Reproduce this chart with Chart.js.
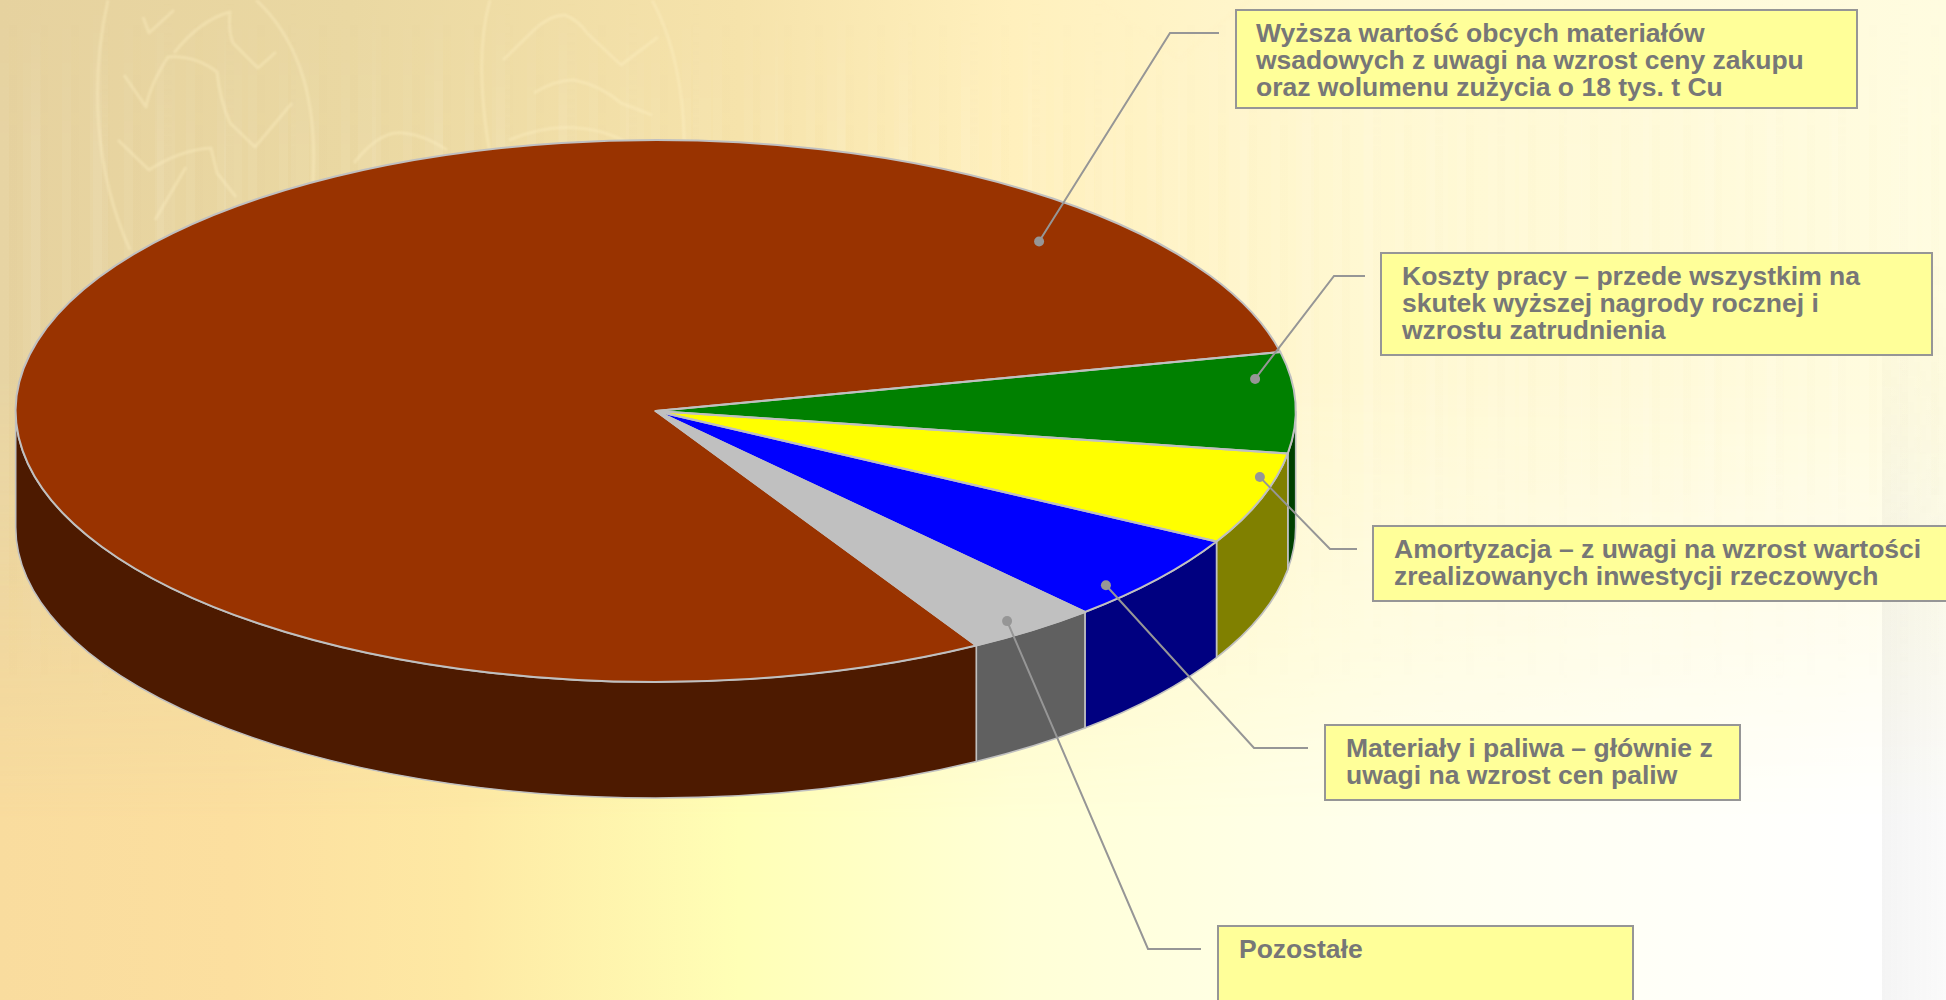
<!DOCTYPE html>
<html lang="pl">
<head>
<meta charset="utf-8">
<title>Koszty</title>
<script src="https://cdn.jsdelivr.net/npm/chart.js@4"></script>
<style>
  html, body { margin: 0; padding: 0; width: 1946px; height: 1000px; overflow: hidden; }
  #stage { position: relative; width: 1946px; height: 1000px; overflow: hidden;
    background: linear-gradient(90deg, #f9dc9e 0, #fcdf9f 12%, #fee9a4 24%, #ffffb6 38%, #ffffd6 52%, #fffff0 74%, #ffffff 96%); }
  .layer { position: absolute; inset: 0; }
  #bgTop {
    background: linear-gradient(90deg, #e6d29f 0, #ead8a2 18%, #f6e3ab 38%, #fff0bd 52%, #fff8d2 70%, #fffce0 100%);
    -webkit-mask-image: linear-gradient(180deg, #000 0, #000 38%, transparent 82%);
    mask-image: linear-gradient(180deg, #000 0, #000 38%, transparent 82%);
  }
  #bgStripes {
    background:
      repeating-linear-gradient(90deg, rgba(255,255,255,.05) 0 9px, rgba(190,160,90,.012) 9px 17px, transparent 17px 31px),
      repeating-linear-gradient(90deg, transparent 0 23px, rgba(255,255,255,.05) 23px 41px, transparent 41px 67px);
    -webkit-mask-image: linear-gradient(180deg, transparent 0, #000 15%, #000 45%, transparent 72%);
    mask-image: linear-gradient(180deg, transparent 0, #000 15%, #000 45%, transparent 72%);
  }
  #bgEdge { left: 1882px; background: linear-gradient(90deg, rgba(120,120,120,.08), rgba(120,120,120,.035));
    -webkit-mask-image: linear-gradient(180deg, transparent 25%, #000 60%);
    mask-image: linear-gradient(180deg, transparent 25%, #000 60%); }
  #bgLeaves { filter: blur(.8px); }
  canvas { position: absolute; left: 0; top: 0; }
  .callout { position: absolute; box-sizing: border-box; background: #ffff99; border: 2px solid #969696;
    font: bold 26.5px/27.2px "Liberation Sans", Arial, sans-serif; color: #777777; white-space: nowrap; }
</style>
</head>
<body>
<div id="stage">
  <div class="layer" id="bgTop"></div>
  <div class="layer" id="bgStripes"></div>
  <div class="layer" id="bgEdge"></div>
  <svg class="layer" id="bgLeaves" width="1946" height="1000" fill="none" stroke="#fff3c4" stroke-opacity=".38" stroke-width="3" stroke-linejoin="round">
    <path d="M108 0C90 80 94 170 130 250M256 0C310 50 325 130 306 240"/>
    <path d="M143 17L149 33L174 10M174 53Q200 20 230 12Q228 30 233 43L258 68L276 52"/>
    <path d="M124 75L146 107Q150 85 168 57Q195 55 217 72Q220 100 230 123L255 147L292 103"/>
    <path d="M118 140L149 170Q180 150 211 148L217 173L236 197M155 220L186 167"/>
    <path d="M490 0C470 70 490 170 510 240M652 0C690 70 690 170 675 250"/>
    <path d="M503 60L534 30Q550 15 565 15Q578 20 587 33L621 65L658 37"/>
    <path d="M534 93Q555 80 574 80Q600 85 621 103L652 115M509 140Q545 125 577 128Q610 130 640 150"/>
    <path d="M354 163Q380 130 403 133Q425 135 447 150"/>
    <path d="M1095 0Q1140 30 1180 60Q1210 30 1250 0" stroke-opacity=".3"/>
  </svg>
  <canvas id="costChart" width="1946" height="1000"></canvas>
  <div id="callouts"></div>
</div>

<script>
const sliceLabels = [
  "Koszty pracy",
  "Amortyzacja",
  "Materiały i paliwa",
  "Pozostałe",
  "Obce materiały wsadowe"
];

// udział w przyroście kosztów, %
const sliceValues = [6.0, 5.5, 5.3, 3.35, 79.85];

const topColors = ["#008000", "#ffff00", "#0000ff", "#c0c0c0", "#993300"];
const wallColors = ["#004000", "#808000", "#000080", "#606060", "#4d1a00"];

const calloutLines = [
  ["Koszty pracy – przede wszystkim na", "skutek wyższej nagrody rocznej i", "wzrostu zatrudnienia"],
  ["Amortyzacja – z uwagi na wzrost wartości", "zrealizowanych inwestycji rzeczowych"],
  ["Materiały i paliwa – głównie z", "uwagi na wzrost cen paliw"],
  ["Pozostałe"],
  ["Wyższa wartość obcych materiałów", "wsadowych z uwagi na wzrost ceny zakupu", "oraz wolumenu zużycia o 18 tys. t Cu"]
];

// left, top, width, height, padding-left of each callout box
const calloutBoxes = [
  [1380, 252, 553, 104, 20],
  [1372, 525, 590, 77, 20],
  [1324, 724, 417, 77, 20],
  [1217, 925, 417, 90, 20],
  [1235, 9, 623, 100, 19]
];

// where a leader lands inside its slice: share of the sweep, share of the radius
const leaderSweep = [0.25, 0.277, 0.714, 0.565, 0.883];
const leaderRadius = [0.944, 0.975, 0.953, 0.95, 0.866];

// horizontal part of each leader: box end x, elbow x, y
const leaderElbows = [
  [1365, 1334, 276],
  [1357, 1330, 549],
  [1308, 1254, 748],
  [1201, 1148, 949],
  [1219, 1170, 33]
];

const PIE_X = 655.7;
const PIE_Y = 411;
const PIE_RX = 640;
const PIE_SQUASH = 271 / 640;
const PIE_DEPTH = 116;
const EDGE_COLOR = "#c0c0c0";
const LEADER_COLOR = "#969696";

function renderCallouts() {
  const holder = document.querySelector("#callouts");

  calloutLines.forEach((lines, i) => {
    const [left, top, width, height, pad] = calloutBoxes[i];
    const box = document.createElement("div");
    box.className = "callout";
    box.style.cssText = `left:${left}px;top:${top}px;width:${width}px;height:${height}px;padding:9px 0 0 ${pad}px`;
    box.innerHTML = lines.join("<br>");
    holder.appendChild(box);
  });
}

function squash(ctx) {
  ctx.translate(PIE_X, PIE_Y);
  ctx.scale(1, PIE_SQUASH);
  ctx.translate(-PIE_X, -PIE_Y);
}

// the parts of a slice's rim that face the viewer
function frontRim(arc) {
  const turn = Math.PI * 2;
  let start = arc.startAngle % turn;
  if (start < 0) start += turn;
  const end = start + (arc.endAngle - arc.startAngle);
  const ranges = [];

  if (start < Math.PI) ranges.push([start, Math.min(end, Math.PI)]);
  if (end > turn) ranges.push([turn, Math.min(end, turn + Math.PI)]);

  return ranges;
}

function drawWalls(chart) {
  const { ctx } = chart;
  const arcs = chart.getDatasetMeta(0).data;

  arcs.forEach((arc, i) => {
    frontRim(arc).forEach(([from, to]) => {
      const ry = arc.outerRadius * PIE_SQUASH;

      ctx.beginPath();
      ctx.ellipse(arc.x, arc.y, arc.outerRadius, ry, 0, from, to);
      ctx.ellipse(arc.x, arc.y + PIE_DEPTH, arc.outerRadius, ry, 0, to, from, true);
      ctx.closePath();
      ctx.fillStyle = wallColors[i];
      ctx.fill();
      ctx.strokeStyle = EDGE_COLOR;
      ctx.lineWidth = 1.6;
      ctx.stroke();
    });
  });
}

function outlineSlices(chart) {
  const { ctx } = chart;

  chart.getDatasetMeta(0).data.forEach(arc => {
    ctx.save();
    squash(ctx);
    ctx.beginPath();
    ctx.moveTo(arc.x, arc.y);
    ctx.arc(arc.x, arc.y, arc.outerRadius, arc.startAngle, arc.endAngle);
    ctx.closePath();
    ctx.restore();
    // stroked after the restore so the line keeps an even width
    ctx.strokeStyle = EDGE_COLOR;
    ctx.lineWidth = 2;
    ctx.lineJoin = "round";
    ctx.stroke();
  });
}

function drawLeaders(chart) {
  const { ctx } = chart;

  chart.getDatasetMeta(0).data.forEach((arc, i) => {
    const angle = arc.startAngle + (arc.endAngle - arc.startAngle) * leaderSweep[i];
    const radius = arc.outerRadius * leaderRadius[i];
    const dotX = arc.x + Math.cos(angle) * radius;
    const dotY = arc.y + Math.sin(angle) * radius * PIE_SQUASH;
    const [endX, elbowX, y] = leaderElbows[i];

    ctx.beginPath();
    ctx.moveTo(endX, y);
    ctx.lineTo(elbowX, y);
    ctx.lineTo(dotX, dotY);
    ctx.strokeStyle = LEADER_COLOR;
    ctx.lineWidth = 2;
    ctx.lineJoin = "miter";
    ctx.stroke();

    ctx.beginPath();
    ctx.arc(dotX, dotY, 5, 0, Math.PI * 2);
    ctx.fillStyle = LEADER_COLOR;
    ctx.fill();
  });
}

const pie3d = {
  id: "pie3d",
  afterLayout(chart) {
    // the circle is laid out at full width and flattened while drawing
    chart.chartArea = {
      left: PIE_X - PIE_RX,
      right: PIE_X + PIE_RX,
      top: PIE_Y - PIE_RX,
      bottom: PIE_Y + PIE_RX,
      width: PIE_RX * 2,
      height: PIE_RX * 2
    };
  },
  beforeDatasetsDraw(chart) {
    drawWalls(chart);
    chart.ctx.save();
    squash(chart.ctx);
  },
  afterDatasetsDraw(chart) {
    chart.ctx.restore();
    outlineSlices(chart);
    drawLeaders(chart);
  }
};

function initChart() {
  renderCallouts();

  new Chart(document.querySelector("#costChart"), {
    type: "pie",
    plugins: [pie3d],
    data: {
      labels: sliceLabels,
      datasets: [
        {
          data: sliceValues,
          backgroundColor: topColors,
          borderWidth: 0,
          clip: false
        }
      ]
    },
    options: {
      responsive: false,
      animation: false,
      rotation: 77.4,
      plugins: {
        legend: { display: false },
        tooltip: { enabled: false }
      }
    }
  });
}

document.addEventListener("DOMContentLoaded", initChart);
</script>
</body>
</html>
